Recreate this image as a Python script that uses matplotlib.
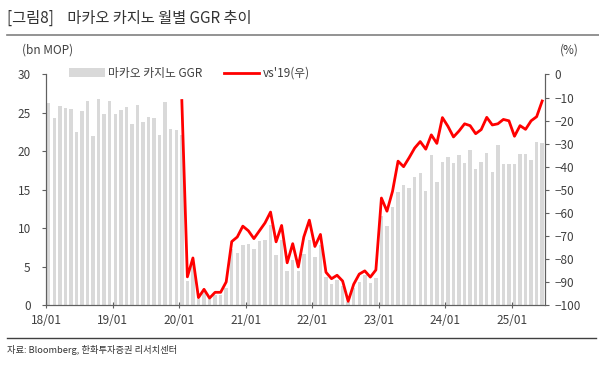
import numpy as np
import pandas as pd
import matplotlib.pyplot as plt

plt.rcParams['font.family'] = ['Noto Sans CJK KR', 'DejaVu Sans']

# monthly Macau casino GGR (bn MOP), 2018/01 - 2025/06
ggr = [26.3, 24.3, 25.9, 25.7, 25.5, 22.5, 25.3, 26.6, 22.0, 26.8, 24.9, 26.5,
       24.9, 25.4, 25.8, 23.6, 26.0, 23.8, 24.5, 24.3, 22.1, 26.4, 22.9, 22.8,
       22.1, 3.1, 5.3, 0.75, 1.8, 0.72, 1.3, 1.3, 2.2, 7.3, 6.8, 7.8,
       8.0, 7.3, 8.3, 8.4, 10.4, 6.5, 8.4, 4.4, 5.9, 4.4, 6.7, 8.4,
       6.3, 7.8, 3.7, 2.7, 3.3, 2.5, 0.4, 2.2, 3.0, 3.9, 2.8, 3.5,
       11.6, 10.3, 12.7, 14.7, 15.6, 15.2, 16.7, 17.2, 14.9, 19.5, 16.0, 18.6,
       19.3, 18.5, 19.5, 18.5, 20.2, 17.7, 18.6, 19.8, 17.3, 20.8, 18.4, 18.3,
       18.3, 19.7, 19.7, 18.9, 21.2, 21.1]

# vs same month of 2019 (%), from 2020/01
vs19 = [-11.3, -87.8, -79.6, -96.8, -93.2, -97.0, -94.5, -94.5, -90.0, -72.5, -70.5, -65.8,
        -67.8, -71.2, -67.8, -64.4, -59.7, -72.6, -65.5, -81.7, -73.4, -83.5, -70.5, -63.2,
        -74.6, -69.4, -85.8, -88.6, -87.1, -89.6, -98.4, -91.0, -86.6, -85.2, -87.9, -84.8,
        -53.6, -59.3, -50.7, -37.6, -40.0, -36.1, -31.9, -29.1, -32.4, -26.2, -29.9, -18.7,
        -22.5, -27.1, -24.5, -21.4, -22.2, -25.7, -23.9, -18.6, -21.9, -21.4, -19.5, -20.1,
        -26.8, -22.2, -23.8, -20.1, -18.3, -11.5]

tick_labels = ['18/01', '19/01', '20/01', '21/01', '22/01', '23/01', '24/01', '25/01']

n = len(ggr)
x = np.arange(n) + 0.5
x_line = x[n - len(vs19):]

txt = '#404040'
fig = plt.figure(figsize=(5.99, 3.66), dpi=100)
ax = fig.add_axes([0.0768, 0.1667, 0.833, 0.6298])
ax2 = ax.twinx()

bars = ax.bar(x, ggr, width=0.62, color='#d9d9d9', label='마카오 카지노 GGR', zorder=1)
line, = ax2.plot(x_line, vs19, color='#ff0000', lw=2.0, label="vs'19(우)")

ax.set_xlim(0, n)
ax.set_ylim(0, 30)
ax.set_yticks(range(0, 31, 5))
ax2.set_ylim(-100, 0)
ax2.set_yticks(range(-100, 1, 10))
ax.set_xticks(np.arange(0, n, 12))
ax.set_xticklabels(tick_labels)

for a in (ax, ax2):
    a.spines['top'].set_visible(False)
    for s in a.spines.values():
        s.set_color('#606060')
        s.set_linewidth(0.8)
    a.tick_params(colors='#606060', labelcolor=txt, labelsize=8.5, length=3, width=0.8)
ax.tick_params(axis='x', direction='inout', length=5, pad=4)
ax.tick_params(axis='y', pad=8)
ax2.tick_params(axis='y', pad=4)

fig.text(0.037, 0.855, '(bn MOP)', fontsize=8.5, color=txt)
fig.text(0.935, 0.855, '(%)', fontsize=8.5, color=txt)

ax.legend([bars, line], ['마카오 카지노 GGR', "vs'19(우)"], loc='upper left',
          bbox_to_anchor=(0.025, 1.08), ncol=2, frameon=False, fontsize=8.5,
          handlelength=3.0, columnspacing=1.8, handletextpad=0.3, labelcolor=txt)

fig.text(0.012, 0.937, '[그림8]    마카오 카지노 월별 GGR 추이', fontsize=11, color='#333333')
fig.add_artist(plt.Line2D([0.012, 1.0], [0.905, 0.905], color='#808080', lw=1.2))
fig.add_artist(plt.Line2D([0.012, 0.995], [0.077, 0.077], color='#404040', lw=1.0))
fig.text(0.012, 0.035, '자료: Bloomberg, 한화투자증권 리서치센터', fontsize=6.7, color='#333333')

fig.savefig('out.png', dpi=100)
